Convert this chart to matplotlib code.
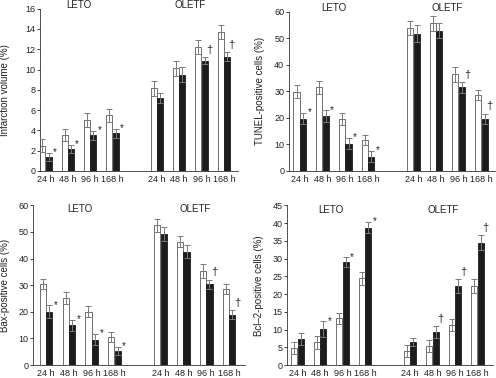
import matplotlib
matplotlib.use("Agg")
import matplotlib.pyplot as plt
import numpy as np

plt.rcParams['font.family'] = ['Liberation Sans', 'DejaVu Sans']
plt.rcParams['font.size'] = 6.5

times = ["24 h", "48 h", "96 h", "168 h"]
groups = ["LETO", "OLETF"]

# infarction volume (%), LETO then OLETF
infarct_white = [2.5, 3.5, 5.0, 5.5, 8.15, 10.1, 12.2, 13.7]
infarct_white_err = [0.6, 0.6, 0.7, 0.65, 0.75, 0.75, 0.7, 0.7]
infarct_black = [1.4, 2.2, 3.5, 3.7, 7.15, 9.5, 10.85, 11.25]
infarct_black_err = [0.4, 0.4, 0.45, 0.45, 0.5, 0.7, 0.35, 0.45]
infarct_marks = ["*", "*", "*", "*", "", "", "†", "†"]

# TUNEL-positive cells (%)
tunel_white = [29.8, 31.5, 19.7, 11.6, 53.8, 55.6, 36.4, 28.6]
tunel_white_err = [2.4, 2.5, 2.3, 1.8, 2.6, 2.8, 2.8, 2.0]
tunel_black = [19.7, 20.6, 10.3, 5.4, 51.7, 52.8, 31.5, 19.7]
tunel_black_err = [2.1, 2.2, 2.2, 2.2, 3.2, 2.8, 2.0, 1.9]
tunel_marks = ["*", "*", "*", "*", "", "", "†", "†"]

# Bax-positive cells (%)
bax_white = [30.3, 25.3, 20.0, 10.5, 52.5, 46.3, 35.3, 28.6]
bax_white_err = [1.9, 2.3, 2.1, 2.0, 2.4, 2.1, 2.5, 2.0]
bax_black = [20.0, 15.0, 9.5, 5.3, 49.3, 42.5, 30.3, 18.9]
bax_black_err = [2.4, 2.1, 2.1, 1.6, 2.6, 2.4, 1.8, 1.7]
bax_marks = ["*", "*", "*", "*", "", "", "†", "†"]

# Bcl-2-positive cells (%)
bcl_white = [4.8, 6.4, 13.2, 24.4, 3.9, 5.4, 11.3, 22.3]
bcl_white_err = [1.8, 1.8, 1.6, 1.9, 1.7, 1.7, 1.6, 1.9]
bcl_black = [7.3, 10.1, 28.9, 38.7, 6.4, 9.4, 22.3, 34.5]
bcl_black_err = [1.7, 2.2, 1.4, 1.6, 1.1, 1.7, 1.9, 2.1]
bcl_marks = ["", "*", "*", "*", "", "†", "†", "†"]

positions = [0, 1, 2, 3, 5, 6, 7, 8]

panels = [
    # values, errors, marks, ylabel, ymax, ystep, axes rect, xlim, label x, group label y
    (infarct_white, infarct_white_err, infarct_black, infarct_black_err, infarct_marks,
     "Infarction volume (%)", 16, 2, [0.081, 0.548, 0.399, 0.429], (-0.24, 8.64), -0.154, 16.4),
    (tunel_white, tunel_white_err, tunel_black, tunel_black_err, tunel_marks,
     "TUNEL-positive cells (%)", 60, 10, [0.583, 0.548, 0.415, 0.421], (-0.47, 8.6), -0.117, 61.5),
    (bax_white, bax_white_err, bax_black, bax_black_err, bax_marks,
     "Bax-positive cells (%)", 60, 10, [0.067, 0.034, 0.427, 0.423], (-0.56, 8.7), -0.108, 58.5),
    (bcl_white, bcl_white_err, bcl_black, bcl_black_err, bcl_marks,
     "Bcl–2-positive cells (%)", 45, 5, [0.579, 0.034, 0.415, 0.423], (-0.46, 8.7), -0.112, 43.8),
]

fig = plt.figure(figsize=(4.96, 3.78), dpi=100)
w = 0.27
off = 0.145
ecol = "#7a7a7a"

for wv, we, bv, be, marks, ylab, ymax, ystep, rect, xl, lx, gy in panels:
    ax = fig.add_axes(rect)
    x = np.array(positions, dtype=float)
    ax.bar(x - off, wv, w, color="white", edgecolor="#5a5a5a", linewidth=0.6, zorder=2)
    ax.bar(x + off, bv, w, color="#1c1c1c", edgecolor="#1c1c1c", linewidth=0.6, zorder=2)
    ax.errorbar(x - off, wv, yerr=we, fmt="none", ecolor=ecol, elinewidth=0.7,
                capsize=2.2, capthick=0.7, zorder=3)
    ax.errorbar(x + off, bv, yerr=be, fmt="none", ecolor=ecol, elinewidth=0.7,
                capsize=2.2, capthick=0.7, zorder=3)
    for xi, b, e, m in zip(x, bv, be, marks):
        if not m:
            continue
        if m == "*":
            ax.text(xi + 0.42, b + e + 0.005 * ymax, m, ha="center", va="center",
                    fontsize=7, color="#222222")
        else:
            ax.text(xi + 0.36, b + e + 0.045 * ymax, m, ha="center", va="center",
                    fontsize=8, color="#222222")
    ax.text(1.5, gy, groups[0], ha="center", va="center", fontsize=7, color="#222222")
    ax.text(6.5, gy, groups[1], ha="center", va="center", fontsize=7, color="#222222")

    ax.set_xlim(*xl)
    ax.set_ylim(0, ymax)
    ax.set_yticks(np.arange(0, ymax + 0.1, ystep))
    ax.set_xticks(x)
    ax.set_xticklabels(times * 2)
    ax.tick_params(axis="x", length=0, pad=3, colors="#222222")
    ax.tick_params(axis="y", length=2, width=0.6, pad=1.5, colors="#222222", direction="out")
    for s in ["top", "right"]:
        ax.spines[s].set_visible(False)
    for s in ["left", "bottom"]:
        ax.spines[s].set_linewidth(0.6)
        ax.spines[s].set_color("#333333")
    ax.set_ylabel(ylab, fontsize=7, color="#222222")
    ax.yaxis.set_label_coords(lx, 0.5)
    ax.patch.set_alpha(0)

fig.savefig("out.png", dpi=100)
